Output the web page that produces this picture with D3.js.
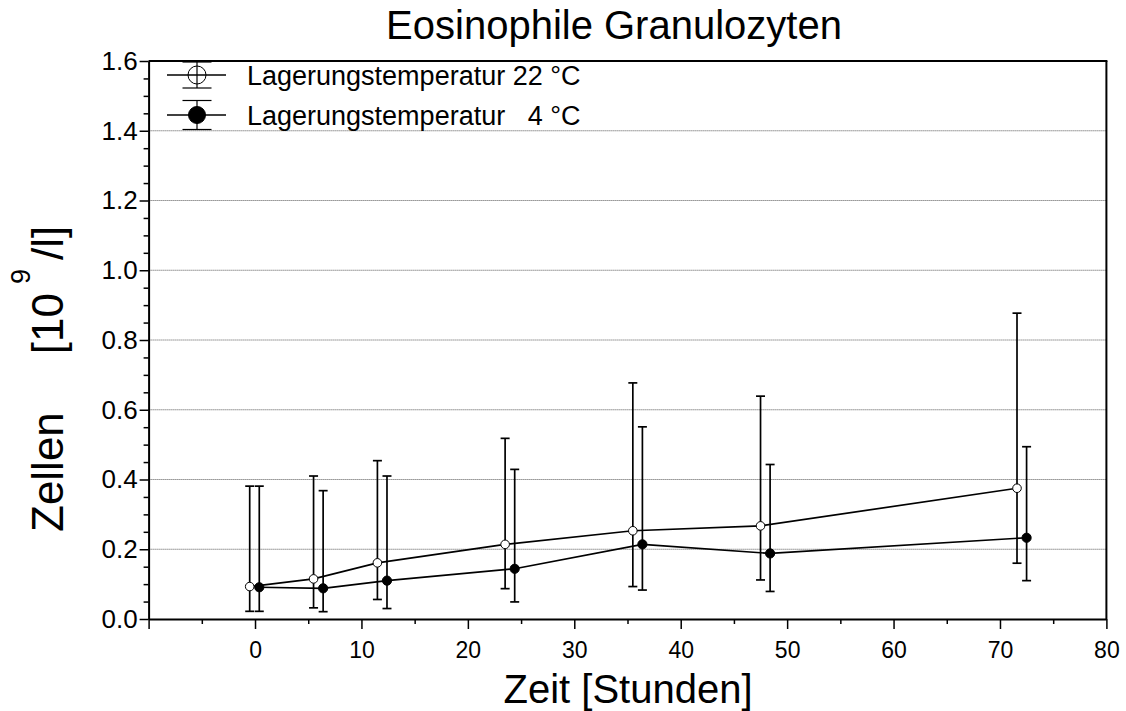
<!DOCTYPE html>
<html><head><meta charset="utf-8">
<script src="https://cdn.jsdelivr.net/npm/d3@7"></script>
<style>
html,body{margin:0;padding:0;background:#fff;}
text{font-family:"Liberation Sans",Arial,sans-serif;fill:#000;}
</style></head>
<body>
<svg id="chart" width="1126" height="711"></svg>
<script>
// ---- data ----
const title = "Eosinophile Granulozyten";
const seriesLabel = "Lagerungstemperatur";
const seriesTemps = ["22 °C", "4 °C"];
const time22  = [-0.5, 5.5, 11.5, 23.5, 35.5, 47.5, 71.6];
const mean22  = [0.093, 0.115, 0.161, 0.214, 0.253, 0.267, 0.375];
const upper22 = [0.381, 0.410, 0.454, 0.518, 0.677, 0.639, 0.877];
const lower22 = [0.022, 0.032, 0.056, 0.087, 0.093, 0.112, 0.160];
const time4   = [0.4, 6.4, 12.4, 24.4, 36.4, 48.4, 72.5];
const mean4   = [0.091, 0.088, 0.110, 0.144, 0.214, 0.188, 0.233];
const upper4  = [0.381, 0.368, 0.410, 0.429, 0.551, 0.443, 0.494];
const lower4  = [0.022, 0.021, 0.030, 0.049, 0.083, 0.079, 0.110];
const xTicks = [-10, 0, 10, 20, 30, 40, 50, 60, 70, 80];
const xMinor = [-5, 5, 15, 25, 35, 45, 55, 65, 75];
const yTicks = [0, 0.2, 0.4, 0.6, 0.8, 1.0, 1.2, 1.4, 1.6];
const yGrid  = [0.2, 0.4, 0.6, 0.8, 1.0, 1.2, 1.4];

// ---- layout ----
const L = 148.6, R = 1106.4, T = 61, B = 619;
const FONT = "'Liberation Sans',Arial,sans-serif";
const svg = d3.select("#chart");
const x = d3.scaleLinear().domain([-10, 80]).range([L, R]);
const y = d3.scaleLinear().domain([0, 1.6]).range([B, T]);

// grid
svg.append("g").selectAll("line").data(yGrid).join("line")
  .attr("x1", L).attr("x2", R).attr("y1", d => y(d)).attr("y2", d => y(d))
  .attr("stroke", "#555").attr("stroke-width", 1).attr("stroke-dasharray", "1,1");

// axes
const xAxis = svg.append("g").attr("transform", `translate(0,${B})`)
  .call(d3.axisBottom(x).tickValues(xTicks).tickSize(10).tickSizeOuter(0)
    .tickFormat(d => d < 0 ? "" : d3.format("d")(d)));
xAxis.selectAll(".tick text").attr("font-size", 23).attr("dy", null).attr("y", 39).attr("font-family", FONT);
svg.append("g").attr("transform", `translate(0,${B})`)
  .call(d3.axisBottom(x).tickValues(xMinor).tickSize(5).tickSizeOuter(0).tickFormat(""))
  .select(".domain").remove();

const yAxis = svg.append("g").attr("transform", `translate(${L},0)`)
  .call(d3.axisLeft(y).tickValues(yTicks).tickSize(9).tickSizeOuter(0).tickFormat(d3.format(".1f")));
yAxis.selectAll(".tick text").attr("font-size", 26).attr("x", -11).attr("font-family", FONT);
const yMinor = d3.range(1, 32).map(i => i * 0.05).filter((v, i) => (i + 1) % 4 !== 0);
svg.append("g").attr("transform", `translate(${L},0)`)
  .call(d3.axisLeft(y).tickValues(yMinor).tickSize(5).tickSizeOuter(0).tickFormat(""))
  .select(".domain").remove();
svg.selectAll(".domain").attr("stroke-width", 2);
svg.selectAll(".tick line").attr("stroke-width", 1.5);

// frame top & right
svg.append("line").attr("x1", L).attr("x2", R + 1).attr("y1", T).attr("y2", T).attr("stroke", "#000").attr("stroke-width", 2);
svg.append("line").attr("x1", R).attr("x2", R).attr("y1", T).attr("y2", B).attr("stroke", "#000").attr("stroke-width", 2);

// series
const s22 = time22.map((t, i) => ({t, m: mean22[i], u: upper22[i], l: lower22[i]}));
const s4  = time4.map((t, i) => ({t, m: mean4[i], u: upper4[i], l: lower4[i]}));
const line = d3.line().x(d => x(d.t)).y(d => y(d.m));
[s22, s4].forEach(s => {
  svg.append("path").datum(s).attr("d", line).attr("fill", "none").attr("stroke", "#000").attr("stroke-width", 1.7);
});
function errBars(s) {
  const g = svg.append("g").attr("stroke", "#000").attr("stroke-width", 1.7);
  g.selectAll(".v").data(s).join("line").attr("x1", d => x(d.t)).attr("x2", d => x(d.t))
    .attr("y1", d => y(d.u)).attr("y2", d => y(d.l));
  g.selectAll(".cu").data(s).join("line").attr("x1", d => x(d.t) - 4.5).attr("x2", d => x(d.t) + 4.5)
    .attr("y1", d => y(d.u)).attr("y2", d => y(d.u));
  g.selectAll(".cl").data(s).join("line").attr("x1", d => x(d.t) - 4.5).attr("x2", d => x(d.t) + 4.5)
    .attr("y1", d => y(d.l)).attr("y2", d => y(d.l));
}
errBars(s22); errBars(s4);
svg.append("g").selectAll("circle").data(s22).join("circle")
  .attr("cx", d => x(d.t)).attr("cy", d => y(d.m)).attr("r", 4.3)
  .attr("fill", "#fff").attr("stroke", "#000").attr("stroke-width", 1);
svg.append("g").selectAll("circle").data(s4).join("circle")
  .attr("cx", d => x(d.t)).attr("cy", d => y(d.m)).attr("r", 4.6)
  .attr("fill", "#000").attr("stroke", "#000").attr("stroke-width", 1);

// legend
const lg = svg.append("g");
const rows = [{y: 75, half: 13, fill: "#fff", r: 9}, {y: 115, half: 14.5, fill: "#000", r: 8.5}];
let endX = 0;
rows.forEach((rw, i) => {
  const cx = 197;
  lg.append("line").attr("x1", 167).attr("x2", 226).attr("y1", rw.y).attr("y2", rw.y).attr("stroke", "#000").attr("stroke-width", 1.6);
  lg.append("line").attr("x1", cx).attr("x2", cx).attr("y1", rw.y - rw.half).attr("y2", rw.y + rw.half).attr("stroke", "#000").attr("stroke-width", 1.2);
  [-1, 1].forEach(sg => lg.append("line").attr("x1", cx - 14.5).attr("x2", cx + 14.5)
    .attr("y1", rw.y + sg * rw.half).attr("y2", rw.y + sg * rw.half).attr("stroke", "#000").attr("stroke-width", 1.2));
  lg.append("circle").attr("cx", cx).attr("cy", rw.y).attr("r", rw.r).attr("fill", rw.fill).attr("fill-opacity", i === 0 ? 0 : 1).attr("stroke", "#000").attr("stroke-width", 1);
  if (i === 0) {
    const t = lg.append("text").attr("x", 247).attr("y", rw.y + 9.5).attr("font-size", 27).text(seriesLabel + " " + seriesTemps[0]);
    endX = 247 + t.node().getComputedTextLength();
  } else {
    lg.append("text").attr("x", 247).attr("y", rw.y + 9.5).attr("font-size", 27).text(seriesLabel);
    lg.append("text").attr("x", endX).attr("y", rw.y + 9.5).attr("text-anchor", "end").attr("font-size", 27).text(seriesTemps[1]);
  }
});

// titles
svg.append("text").attr("x", 614).attr("y", 39).attr("text-anchor", "middle").attr("font-size", 40).text(title);
svg.append("text").attr("x", 628).attr("y", 703).attr("text-anchor", "middle").attr("font-size", 40).text("Zeit [Stunden]");
const yl = svg.append("text").attr("transform", "translate(63,532) rotate(-90)").attr("text-anchor", "start").attr("font-size", 44);
yl.append("tspan").text("Zellen");
yl.append("tspan").attr("dx", 58).text("[10");
yl.append("tspan").attr("font-size", 27).attr("dx", 9).attr("dy", -33).text("9");
yl.append("tspan").attr("dx", 9).attr("dy", 33).text("/l]");
</script>
</body></html>
